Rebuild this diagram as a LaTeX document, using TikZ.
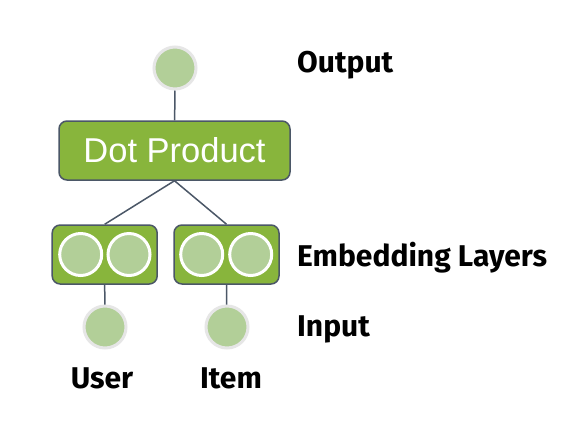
\documentclass[tikz,border=0pt]{standalone}
\usepackage{fontspec}
\setmainfont{Liberation Sans}
\newfontfamily\labfont{Fira Sans}
\definecolor{boxgreen}{HTML}{88B53C}
\definecolor{lightgreen}{HTML}{B2CF98}
\definecolor{ringgrey}{HTML}{E6E6E6}
\definecolor{edgecol}{HTML}{4B5767}
\begin{document}
\begin{tikzpicture}[x=1pt,y=-1pt,
  inp/.style={circle, fill=lightgreen, draw=ringgrey, line width=3pt, minimum size=42pt, inner sep=0pt},
  emb/.style={circle, fill=lightgreen, draw=white, line width=3pt, minimum size=42pt, inner sep=0pt},
  greenbox/.style={draw=edgecol, fill=boxgreen, line width=1.5pt, rounded corners=8pt, inner sep=0pt},
  lab/.style={anchor=base west, font=\labfont\bfseries\fontsize{30}{30}\selectfont, inner sep=0pt},
  conn/.style={draw=edgecol, line width=1.5pt}]
\useasboundingbox[fill=white] (0,0) rectangle (586,432);
% nodes
\node[greenbox, minimum width=231pt, minimum height=59pt, text=white,
      font=\fontsize{34.5}{34.5}\selectfont] (dot) at (174.5,150.5) {Dot Product};
\node[greenbox, minimum width=105pt, minimum height=59pt] (embU) at (104.7,254.5) {};
\node[greenbox, minimum width=105pt, minimum height=59pt] (embI) at (226.5,254.5) {};
\node[emb] (eu1) at (80.7,254.5) {};
\node[emb] (eu2) at (129,254.5) {};
\node[emb] (ei1) at (201.7,254.5) {};
\node[emb] (ei2) at (250.7,254.5) {};
\node[inp] (out) at (175,68) {};
\node[inp] (inU) at (105,327) {};
\node[inp] (inI) at (227,327) {};
% connectors
\draw[conn] (out) -- (dot);
\draw[conn] (dot.south) -- (embU.north);
\draw[conn] (dot.south) -- (embI.north);
\draw[conn] (embU.south) -- (inU);
\draw[conn] (embI.south) -- (inI);
% labels
\node[lab] (lout) at (297,72) {Output};
\node[lab] (lemb) at (297,266.5) {Embedding Layers};
\node[lab] (linp) at (297,336) {Input};
\node[lab, anchor=base] (luser) at (102,388) {User};
\node[lab, anchor=base] (litem) at (231,388) {Item};
\end{tikzpicture}
\end{document}
